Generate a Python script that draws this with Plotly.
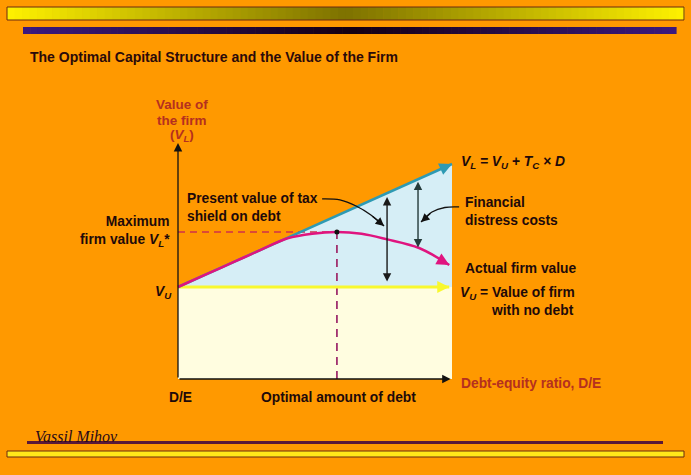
import plotly.graph_objects as go

W, H = 691, 475
# pixel scale of data (used only to set axis ranges so the chart sits where the reference has it)
X0_PX, Y0_PX = 178, 379
PX_PER_X, PX_PER_Y = 27.4, 0.92

# ---------------- data ----------------
debt_vl = [0, 10]                 # V_L = V_U + T_C x D
value_vl = [100, 233.7]
debt_vu = [0, 9.9]                # V_U (unlevered)
value_vu = [100, 100]
debt_actual = [0, 1, 2, 3, 4, 4.9, 5.8, 6.7, 7.6, 8.8, 9.9]
value_actual = [100, 113.4, 126.7, 140.1, 153.0, 158.0, 159.8, 157.8, 152.0, 142.4, 123.9]
optimal_debt = 5.8
max_value = 159.8
axis_x_end = 9.95
axis_y_end = 256.5
# double arrows: (x, y_low, y_high)
tax_shield_arrow = (7.63, 104.3, 197.8)
distress_arrow = (8.76, 141.3, 214.5)
# leader lines
leader_tax_x = [5.26, 5.91, 6.50, 7.04, 7.52]
leader_tax_y = [195.7, 194.6, 188.0, 178.3, 166.3]
leader_fd_x = [10.26, 9.74, 9.27, 8.87]
leader_fd_y = [187.0, 186.4, 181.5, 170.7]

ORANGE = "#FF9900"
DARK = "#1E0A0A"
RED = "#B5301F"
TEAL = "#2E9AB3"
MAGENTA = "#E0147F"
YELLOW = "#F8F82E"
LBLUE = "#D6EEF6"
LYELLOW = "#FFFDE0"
SANS = "Liberation Sans, Arial, sans-serif"
SERIF = "Liberation Serif, Times New Roman, serif"
FS = 13.8

fig = go.Figure()

# fills
fig.add_trace(go.Scatter(x=[debt_vl[0], debt_vl[1], debt_vl[1], debt_vl[0]],
                         y=[0, 0, value_vu[0], value_vu[0]], fill="toself",
                         fillcolor=LYELLOW, line=dict(width=0), mode="lines", hoverinfo="skip"))
fig.add_trace(go.Scatter(x=[debt_vl[0], debt_vl[1], debt_vl[1]],
                         y=[value_vl[0], value_vl[1], value_vu[0]], fill="toself",
                         fillcolor=LBLUE, line=dict(width=0), mode="lines", hoverinfo="skip"))

# dashed guide lines
fig.add_trace(go.Scatter(x=[0, optimal_debt], y=[max_value, max_value], mode="lines",
                         line=dict(color="#D0304A", width=1.3, dash="7px,5px"), hoverinfo="skip"))
fig.add_trace(go.Scatter(x=[optimal_debt, optimal_debt], y=[0, max_value], mode="lines",
                         line=dict(color="#A0306E", width=1.8, dash="8px,6px"), hoverinfo="skip"))

# V_U line
fig.add_trace(go.Scatter(x=debt_vu, y=value_vu, mode="lines",
                         line=dict(color=YELLOW, width=3), hoverinfo="skip"))
# V_L line
fig.add_trace(go.Scatter(x=debt_vl, y=value_vl, mode="lines",
                         line=dict(color=TEAL, width=2.5), hoverinfo="skip"))
# actual firm value
fig.add_trace(go.Scatter(x=debt_actual, y=value_actual, mode="lines",
                         line=dict(color=MAGENTA, width=2.5, shape="spline", smoothing=1.0),
                         hoverinfo="skip"))
# peak dot
fig.add_trace(go.Scatter(x=[optimal_debt], y=[max_value], mode="markers",
                         marker=dict(color="#111111", size=5), hoverinfo="skip"))
# leader lines
for lx, ly in [(leader_tax_x, leader_tax_y), (leader_fd_x, leader_fd_y)]:
    fig.add_trace(go.Scatter(x=lx, y=ly, mode="lines",
                             line=dict(color="#111111", width=1.3, shape="spline"), hoverinfo="skip"))


def arrow(x, y, ax, ay, color, width, head=2, size=1.0, side="end"):
    fig.add_annotation(x=x, y=y, ax=ax, ay=ay, xref="x", yref="y", axref="x", ayref="y",
                       text="", showarrow=True, arrowhead=head, arrowsize=size,
                       arrowwidth=width, arrowcolor=color, arrowside=side, standoff=0,
                       startstandoff=0)


# axes
arrow(0, axis_y_end, 0, 0, "#111111", 1.3, head=2, size=1.3)
arrow(axis_x_end, 0, 0, 0, "#111111", 1.3, head=2, size=1.3)
# line-end arrowheads
arrow(debt_vl[1], value_vl[1], debt_vl[1] - 0.35, value_vl[1] - 0.35 * 13.37, TEAL, 2.5, head=2, size=1)
arrow(debt_vu[1], value_vu[1], debt_vu[1] - 0.35, value_vu[1], YELLOW, 3, head=2, size=0.8)
arrow(debt_actual[-1], value_actual[-1], debt_actual[-1] - 0.3, value_actual[-1] + 5.0, MAGENTA, 2.5, head=2, size=1)
# double arrows
for (xa, ylo, yhi), col in [(tax_shield_arrow, "#1A1A1A"), (distress_arrow, "#253B3B")]:
    arrow(xa, yhi, xa, ylo, col, 1.4, head=2, size=1.2, side="end+start")
# leader arrowheads
arrow(leader_tax_x[-1], leader_tax_y[-1], leader_tax_x[-2], leader_tax_y[-2], "#111111", 1.3, head=2, size=1.3)
arrow(leader_fd_x[-1], leader_fd_y[-1], leader_fd_x[-2], leader_fd_y[-2], "#111111", 1.3, head=2, size=1.3)


def label(text, px, py, xanchor="left", size=FS, color=DARK, align="left", family=SANS):
    fig.add_annotation(x=px / W, y=1 - py / H, xref="paper", yref="paper", text=text,
                       showarrow=False, xanchor=xanchor, yanchor="middle", align=align,
                       font=dict(family=family, size=size, color=color))


label("<b>The Optimal Capital Structure and the Value of the Firm</b>", 28, 57, size=14, color="#2B0A0A")
label("<b>Value of</b>", 182, 104, xanchor="center", color=RED, size=13.5)
label("<b>the firm</b>", 182, 120, xanchor="center", color=RED, size=13.5)
label("<b>(<i>V<sub>L</sub></i>)</b>", 182, 135, xanchor="center", color=RED, size=13.5)
label("<b><i>V<sub>L</sub> = V<sub>U</sub> + T<sub>C</sub> × D</i></b>", 459, 162)
label("<b>Present value of tax<br>shield on debt</b>", 185, 207)
label("<b>Maximum<br>firm value <i>V<sub>L</sub></i>*</b>", 172, 231, xanchor="right", align="right")
label("<b>Financial<br>distress costs</b>", 463, 211)
label("<b>Actual firm value</b>", 463, 268)
label("<b><i>V<sub>U</sub></i> = Value of firm</b>", 458, 293)
label("<b>with no debt</b>", 489, 310)
label("<b><i>V<sub>U</sub></i></b>", 174, 292, xanchor="right")
label("<b>D/E</b>", 181, 397, xanchor="center")
label("<b>Optimal amount of debt</b>", 338, 397, xanchor="center")
label("<b>Debt-equity ratio, D/E</b>", 459, 383, color=RED)
label("<i>Vassil Mihov</i>", 33, 436, size=16, color="#2A0A18", family=SERIF)

# ---------------- decorative bars ----------------
shapes = []


def hexrgb(h):
    h = h.lstrip("#")
    return tuple(int(h[i:i + 2], 16) for i in (0, 2, 4))


def gradient_bar(x0, x1, y0, y1, end_col, mid_col, border=None, n=90):
    e, m = hexrgb(end_col), hexrgb(mid_col)
    step = (x1 - x0) / n
    for i in range(n):
        t = abs((i + 0.5) / n * 2 - 1)
        c = tuple(int(m[k] + (e[k] - m[k]) * t) for k in range(3))
        shapes.append(dict(type="rect", xref="paper", yref="paper",
                           x0=(x0 + i * step) / W, x1=(x0 + (i + 1) * step + 0.6) / W,
                           y0=1 - y1 / H, y1=1 - y0 / H, line=dict(width=0),
                           fillcolor="rgb(%d,%d,%d)" % c, layer="below"))
    if border:
        shapes.append(dict(type="rect", xref="paper", yref="paper", x0=x0 / W, x1=x1 / W,
                           y0=1 - y1 / H, y1=1 - y0 / H, line=dict(width=1, color=border),
                           fillcolor="rgba(0,0,0,0)", layer="below"))


gradient_bar(7, 684, 7, 20, "#FFF200", "#7E7200", border="#6A2A10")
gradient_bar(23, 676, 27, 34, "#3C1A80", "#150012")
shapes.append(dict(type="rect", xref="paper", yref="paper", x0=27 / W, x1=663 / W,
                   y0=1 - 444 / H, y1=1 - 441 / H, line=dict(width=0), fillcolor="#5A1838"))
shapes.append(dict(type="rect", xref="paper", yref="paper", x0=7 / W, x1=684 / W,
                   y0=1 - 457 / H, y1=1 - 451 / H, line=dict(width=1, color="#6A2A10"),
                   fillcolor="#FFE81A"))

fig.update_layout(
    width=W, height=H, margin=dict(l=0, r=0, t=0, b=0),
    paper_bgcolor=ORANGE, plot_bgcolor=ORANGE, showlegend=False,
    shapes=shapes,
    xaxis=dict(range=[-X0_PX / PX_PER_X, (W - X0_PX) / PX_PER_X], visible=False, fixedrange=True),
    yaxis=dict(range=[(Y0_PX - H) / PX_PER_Y, Y0_PX / PX_PER_Y], visible=False, fixedrange=True),
)

fig.write_html(
    "out.html",
    config={"displayModeBar": False},
    post_script="document.body.style.margin='0';document.body.style.background='%s';"
                "document.body.style.overflow='hidden';" % ORANGE,
)
